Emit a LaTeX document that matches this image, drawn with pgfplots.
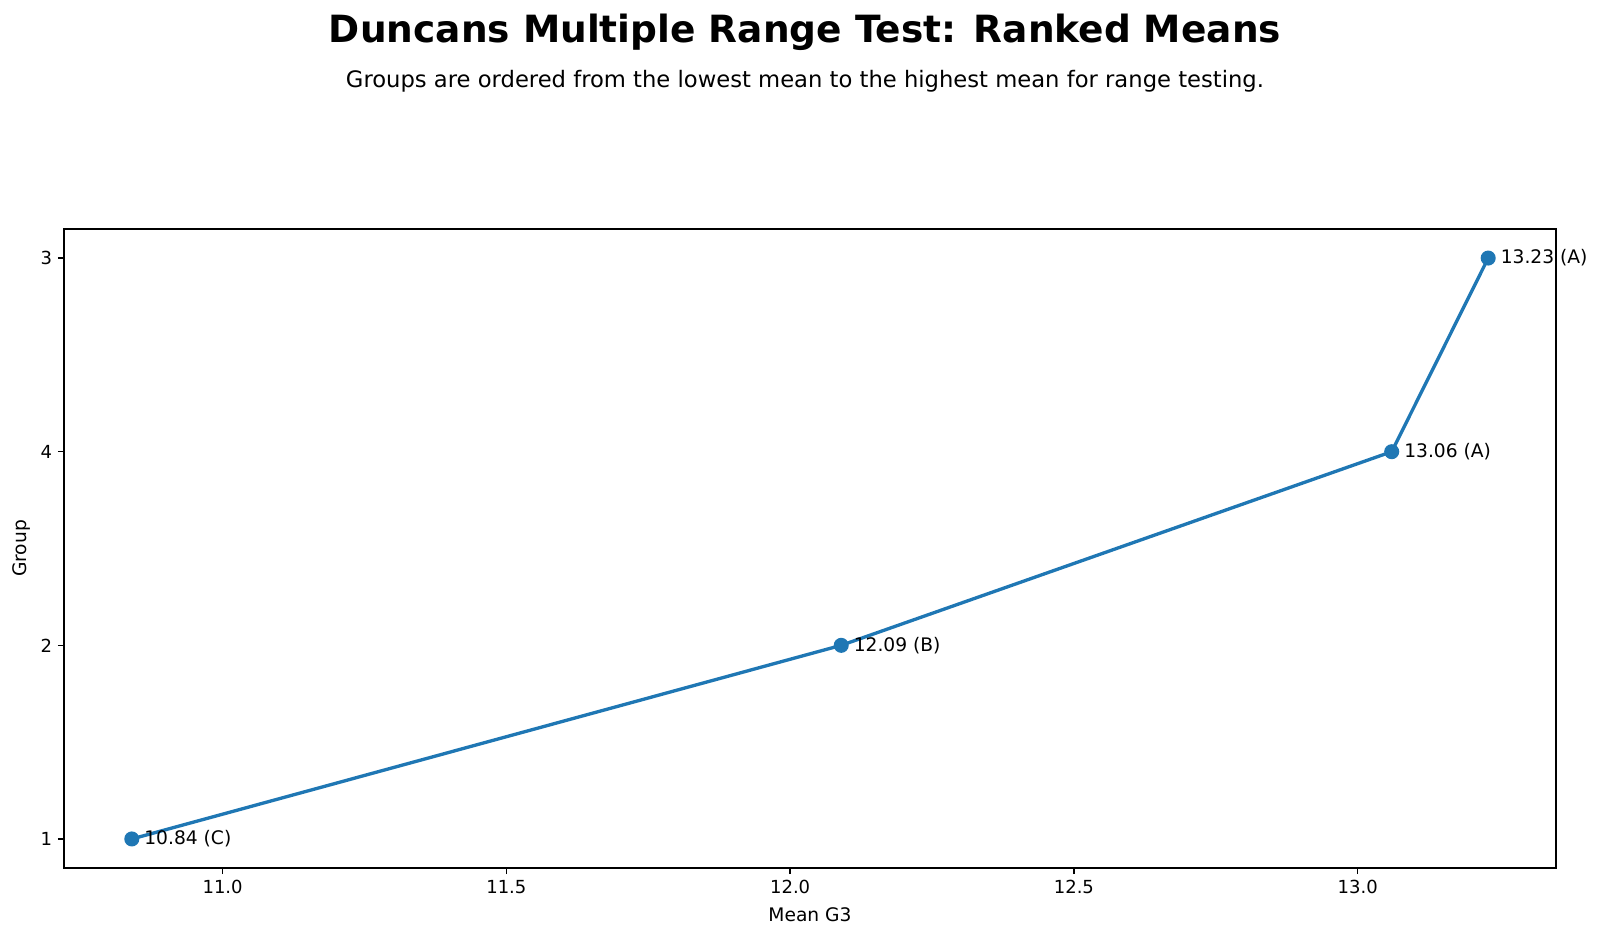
\documentclass[border=0pt]{standalone}
\usepackage{fontspec}
\setmainfont{DejaVu Sans}
\usepackage{pgfplots}
\pgfplotsset{compat=1.18}
\definecolor{tabblue}{HTML}{1F77B4}

\begin{document}
\begin{tikzpicture}
\begin{axis}[
    at={(0,0)}, anchor=south west,
    scale only axis,
    width=895.2pt, height=383.4pt,
    xmin=10.7205, xmax=13.3495,
    ymin=-0.15, ymax=3.15,
    xtick={11,11.5,12,12.5,13},
    xticklabel style={/pgf/number format/.cd,fixed,fixed zerofill,precision=1},
    ytick={0,1,2,3},
    yticklabels={1,2,4,3},
    xtick pos=bottom, ytick pos=left,
    /pgf/number format/assume math mode=true,
    tick align=outside,
    major tick length=3.6pt,
    tick style={black, line width=0.9pt},
    axis line style={line width=0.9pt},
    ticklabel style={font=\fontsize{10.8}{13}\selectfont},
    xlabel={Mean G3},
    ylabel={Group},
    label style={font=\fontsize{11.2}{13}\selectfont},
    xlabel style={at={(axis description cs:0.5,0)}, anchor=base, yshift=-31.8pt},
    ylabel style={at={(axis description cs:-0.0282,0.5)}, anchor=center},
    clip=false,
]
% ranked group means, labelled with Duncan grouping letters
\addplot[
    color=tabblue,
    line width=2pt,
    mark=*,
    mark size=3.5pt,
    mark options={fill=tabblue, draw=tabblue},
    point meta=explicit symbolic,
    nodes near coords,
    every node near coord/.append style={anchor=west, xshift=3.2pt, text=black,
        font=\fontsize{11.2}{13}\selectfont},
] table[meta=lab] {
x     y  lab
10.84 0  {10.84 (C)}
12.09 1  {12.09 (B)}
13.06 2  {13.06 (A)}
13.23 3  {13.23 (A)}
};
\end{axis}
\node[anchor=base, font=\bfseries\fontsize{22.5}{27}\selectfont] at (444.6pt,495pt)
    {Duncans Multiple Range Test: Ranked Means};
\node[anchor=base, font=\fontsize{13.6}{16}\selectfont] at (444.6pt,468pt)
    {Groups are ordered from the lowest mean to the highest mean for range testing.};
\pgfresetboundingbox
\path (-38.4pt,-42pt) rectangle (921.6pt,520.8pt);
\end{tikzpicture}
\end{document}
